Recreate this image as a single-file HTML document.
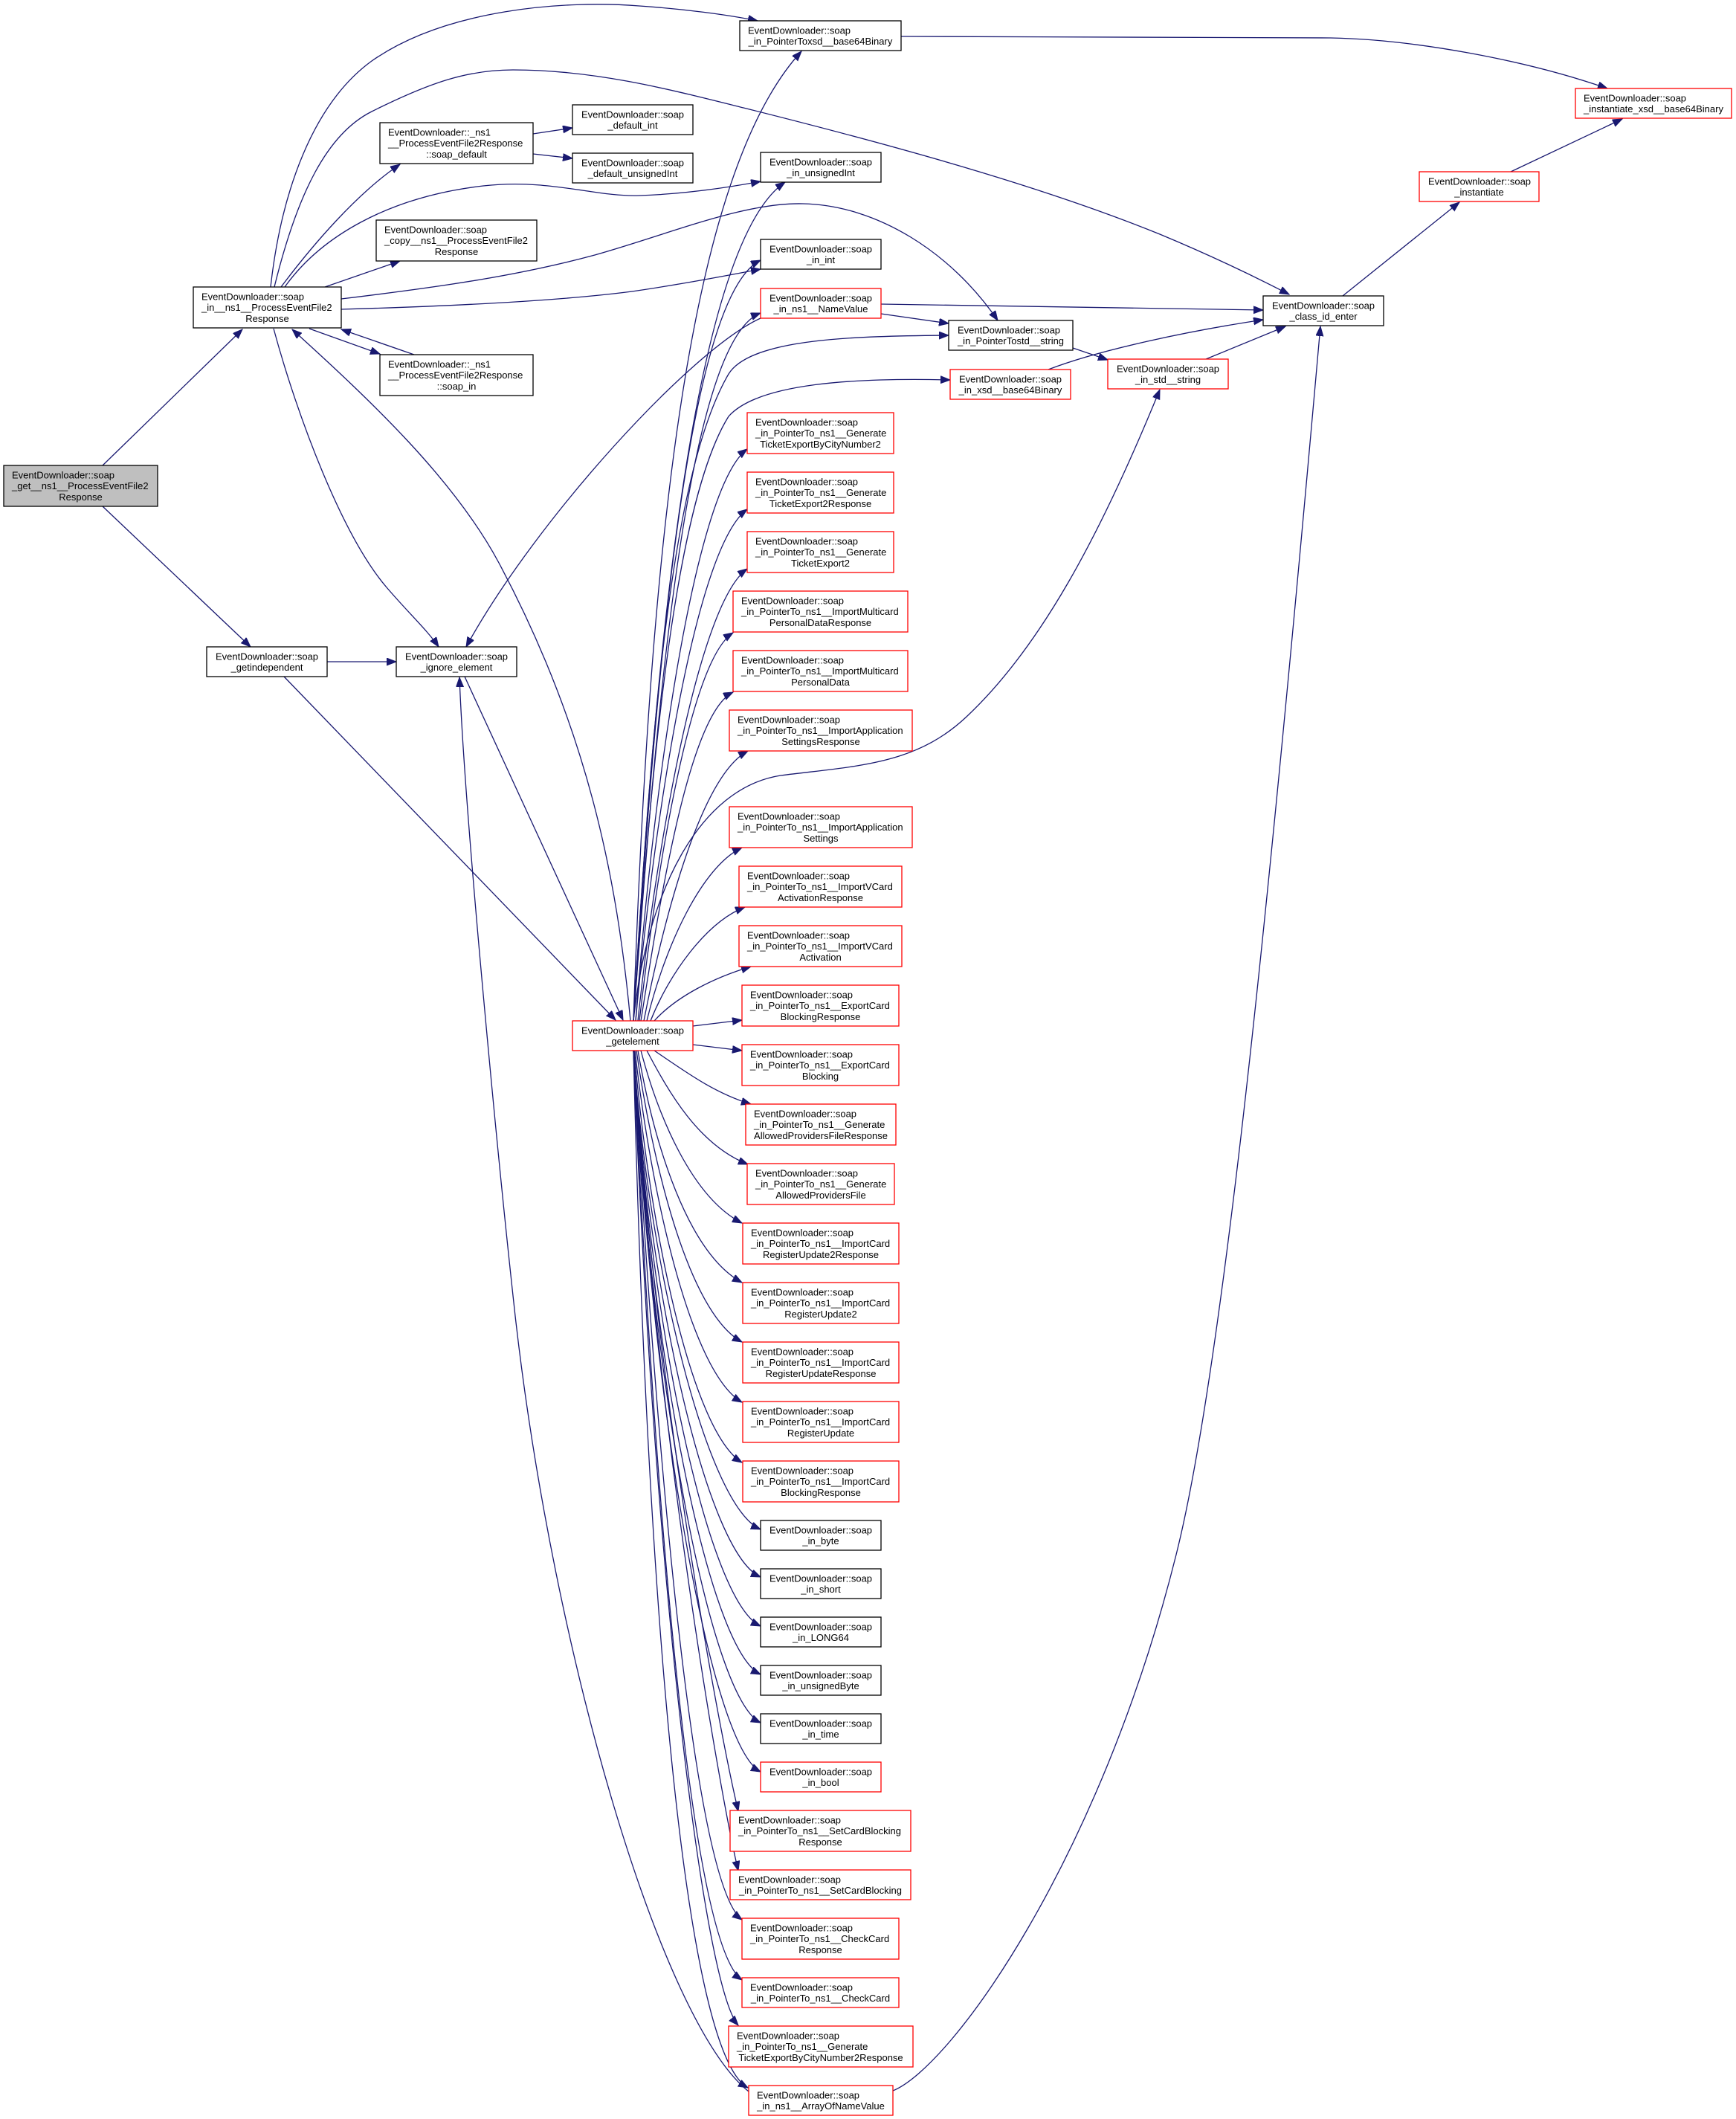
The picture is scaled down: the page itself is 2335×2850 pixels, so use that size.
<!DOCTYPE html>
<html><head><meta charset="utf-8"><style>
html,body{margin:0;padding:0;background:#fff;}
svg{display:block;}
text{font-family:"Liberation Sans",Arial,sans-serif;font-size:13px;fill:#000;}
.m{text-anchor:middle;}
.e{fill:none;stroke:#191970;stroke-width:1.3;marker-end:url(#a);}
.b{fill:#fff;stroke:#000;stroke-width:1.3;}
.r{fill:#fff;stroke:#ff0000;stroke-width:1.3;}
</style></head><body>
<svg width="2335" height="2850" viewBox="0 0 2335 2850" xmlns="http://www.w3.org/2000/svg">
<defs><marker id="a" markerUnits="userSpaceOnUse" markerWidth="14" markerHeight="11" refX="13" refY="5" orient="auto"><path d="M0,0 L13,5 L0,10 Z" fill="#191970" stroke="#191970" stroke-width="1"/></marker></defs>

<!-- edges -->
<path class="e" d="M138,626 L326,443"/>
<path class="e" d="M138,681 L337,870"/>
<path class="e" d="M364,386 C378,260 420,140 500,82 C600,12 760,0 860,8 C920,12 980,20 1019,28"/>
<path class="e" d="M369,386 C400,260 440,180 500,150 C580,110 630,94 690,94 C800,94 900,120 1000,145 C1200,195 1400,250 1560,315 C1620,340 1680,368 1734,396"/>
<path class="e" d="M378,386 C420,330 480,260 538,221"/>
<path class="e" d="M383,386 C430,320 520,265 650,250 C740,240 800,265 860,263 C920,261 980,252 1023,244"/>
<path class="e" d="M437,386 L538,351"/>
<path class="e" d="M459,402 C600,385 700,370 800,343 C900,315 1000,272 1080,274 C1180,276 1280,340 1342,431"/>
<path class="e" d="M459,416 C600,412 750,405 850,392 C920,382 980,370 1023,362"/>
<path class="e" d="M416,442 L511,476"/>
<path class="e" d="M557,477 L459,443"/>
<path class="e" d="M368,442 C400,560 460,720 520,790 C550,825 575,848 590,870"/>
<path class="e" d="M848,1373 C830,1180 790,980 671,757 C611,645 500,540 393,443"/>
<path class="e" d="M440,890 L533,890"/>
<path class="e" d="M382,910 L828,1372"/>
<path class="e" d="M625,910 L838,1372"/>
<path class="e" d="M1023,428 C930,470 720,700 627,870"/>
<path class="e" d="M1007,2813 C890,2720 745,2230 693,1770 C672,1580 625,1100 618,911"/>
<path class="e" d="M717,180 L770,172"/>
<path class="e" d="M717,207 L770,213"/>

<path class="e" d="M1212,49 L1790,51 C1900,53 2050,80 2162,119"/>
<path class="e" d="M1185,409 C1400,412 1600,415 1699,417"/>
<path class="e" d="M1185,422 L1276,435"/>
<path class="e" d="M1443,468 L1490,484"/>
<path class="e" d="M1410,497 C1480,470 1600,445 1699,430"/>
<path class="e" d="M1622,483 L1729,439"/>
<path class="e" d="M1806,398 L1963,272"/>
<path class="e" d="M2032,231 L2182,160"/>
<path class="e" d="M1201,2812 C1280,2780 1480,2500 1582,2091 C1640,1860 1700,1300 1776,439"/>
<path class="e" d="M852,1373 C870,1200 940,1060 1050,1043 C1150,1030 1230,1030 1300,964 C1400,870 1480,720 1560,524"/>

<!-- fan up -->
<path class="e" d="M852,1373 C875,700 930,230 1078,69"/>
<path class="e" d="M852,1373 C880,900 930,330 1056,245"/>
<path class="e" d="M852,1373 C880,950 920,400 1023,350"/>
<path class="e" d="M852,1373 C880,1000 920,460 1023,421"/>
<path class="e" d="M852,1373 C875,1000 900,640 980,503 C1010,455 1150,452 1276,451"/>
<path class="e" d="M852,1373 C875,1050 905,680 980,560 C1020,515 1150,508 1278,511"/>
<path class="e" d="M855,1373 C875,1100 930,660 1005,604"/>
<path class="e" d="M855,1373 C875,1150 930,740 1005,685"/>
<path class="e" d="M858,1373 C878,1180 935,815 1005,765"/>
<path class="e" d="M860,1373 C880,1200 925,890 986,851"/>
<path class="e" d="M862,1373 C885,1230 925,960 986,931"/>
<path class="e" d="M866,1373 C890,1250 940,1045 1006,1010"/>
<path class="e" d="M870,1373 C895,1270 945,1165 998,1140"/>
<path class="e" d="M875,1373 C900,1310 950,1240 1002,1220"/>
<path class="e" d="M880,1373 C910,1340 960,1315 1010,1300"/>
<path class="e" d="M932,1380 L998,1372"/>
<path class="e" d="M932,1405 L998,1413"/>
<!-- fan down -->
<path class="e" d="M880,1413 C920,1440 960,1470 1010,1485"/>
<path class="e" d="M870,1413 C900,1470 940,1540 1006,1566"/>
<path class="e" d="M862,1413 C885,1500 930,1610 998,1645"/>
<path class="e" d="M858,1413 C880,1540 925,1685 998,1725"/>
<path class="e" d="M856,1413 C877,1560 925,1765 998,1805"/>
<path class="e" d="M854,1413 C875,1600 928,1845 998,1886"/>
<path class="e" d="M853,1413 C873,1650 930,1925 998,1967"/>
<path class="e" d="M852,1413 C872,1700 950,2025 1023,2057"/>
<path class="e" d="M852,1413 C874,1750 952,2090 1023,2121"/>
<path class="e" d="M852,1413 C876,1800 954,2155 1023,2187"/>
<path class="e" d="M852,1413 C878,1850 956,2220 1023,2252"/>
<path class="e" d="M852,1413 C880,1900 958,2285 1023,2317"/>
<path class="e" d="M852,1413 C882,1950 960,2350 1023,2383"/>
<path class="e" d="M852,1413 C885,1900 970,2340 993,2436"/>
<path class="e" d="M852,1413 C885,1950 972,2430 993,2516"/>
<path class="e" d="M852,1413 C885,2000 935,2535 998,2582"/>
<path class="e" d="M852,1413 C882,2050 930,2615 998,2663"/>
<path class="e" d="M852,1413 C878,2100 945,2670 993,2724"/>
<path class="e" d="M852,1413 C870,2150 920,2760 1006,2808"/>

<!-- nodes -->
<rect x="5" y="626" width="207" height="55" fill="#bfbfbf" stroke="#000" stroke-width="1.3"/>
<text x="16" y="643.4">EventDownloader::soap</text><text x="16" y="658.1">_get__ns1__ProcessEventFile2</text><text class="m" x="108.5" y="672.8">Response</text>

<rect class="b" x="260" y="386" width="199" height="55"/>
<text x="271" y="403.4">EventDownloader::soap</text><text x="271" y="418.1">_in__ns1__ProcessEventFile2</text><text class="m" x="359.5" y="432.8">Response</text>

<rect class="b" x="511" y="165" width="206" height="55"/>
<text x="522" y="182.4">EventDownloader::_ns1</text><text x="522" y="197.1">__ProcessEventFile2Response</text><text class="m" x="614" y="211.8">::soap_default</text>

<rect class="b" x="506" y="296" width="216" height="55"/>
<text x="517" y="313.4">EventDownloader::soap</text><text x="517" y="328.1">_copy__ns1__ProcessEventFile2</text><text class="m" x="614" y="342.8">Response</text>

<rect class="b" x="511" y="477" width="206" height="55"/>
<text x="522" y="494.4">EventDownloader::_ns1</text><text x="522" y="509.1">__ProcessEventFile2Response</text><text class="m" x="614" y="523.8">::soap_in</text>

<rect class="b" x="278" y="870" width="162" height="40"/>
<text x="290" y="887.25">EventDownloader::soap</text><text class="m" x="359" y="902">_getindependent</text>

<rect class="b" x="533" y="870" width="162" height="40"/>
<text x="545" y="887.25">EventDownloader::soap</text><text class="m" x="614" y="902">_ignore_element</text>

<rect class="b" x="770" y="141" width="162" height="40"/>
<text x="782" y="158.25">EventDownloader::soap</text><text class="m" x="851" y="173">_default_int</text>

<rect class="b" x="770" y="206" width="162" height="40"/>
<text x="782" y="223.25">EventDownloader::soap</text><text class="m" x="851" y="238">_default_unsignedInt</text>

<rect class="r" x="770" y="1373" width="162" height="40"/>
<text x="782" y="1390.25">EventDownloader::soap</text><text class="m" x="851" y="1405">_getelement</text>

<rect class="b" x="995" y="28" width="217" height="40"/>
<text x="1006" y="45.25">EventDownloader::soap</text><text class="m" x="1103.5" y="60">_in_PointerToxsd__base64Binary</text>

<rect class="b" x="1023" y="205" width="162" height="40"/>
<text x="1035" y="222.25">EventDownloader::soap</text><text class="m" x="1104" y="237">_in_unsignedInt</text>

<rect class="b" x="1023" y="322" width="162" height="40"/>
<text x="1035" y="339.25">EventDownloader::soap</text><text class="m" x="1104" y="354">_in_int</text>

<rect class="r" x="1023" y="388" width="162" height="40"/>
<text x="1035" y="405.25">EventDownloader::soap</text><text class="m" x="1104" y="420">_in_ns1__NameValue</text>

<rect class="r" x="1005" y="555" width="197" height="55"/>
<text x="1016" y="572.4">EventDownloader::soap</text><text x="1016" y="587.1">_in_PointerTo_ns1__Generate</text><text class="m" x="1103.5" y="601.8">TicketExportByCityNumber2</text>

<rect class="r" x="1005" y="635" width="197" height="55"/>
<text x="1016" y="652.4">EventDownloader::soap</text><text x="1016" y="667.1">_in_PointerTo_ns1__Generate</text><text class="m" x="1103.5" y="681.8">TicketExport2Response</text>

<rect class="r" x="1005" y="715" width="197" height="55"/>
<text x="1016" y="732.4">EventDownloader::soap</text><text x="1016" y="747.1">_in_PointerTo_ns1__Generate</text><text class="m" x="1103.5" y="761.8">TicketExport2</text>

<rect class="r" x="986" y="795" width="235" height="55"/>
<text x="997" y="812.4">EventDownloader::soap</text><text x="997" y="827.1">_in_PointerTo_ns1__ImportMulticard</text><text class="m" x="1103.5" y="841.8">PersonalDataResponse</text>

<rect class="r" x="986" y="875" width="235" height="55"/>
<text x="997" y="892.4">EventDownloader::soap</text><text x="997" y="907.1">_in_PointerTo_ns1__ImportMulticard</text><text class="m" x="1103.5" y="921.8">PersonalData</text>

<rect class="r" x="981" y="955" width="246" height="55"/>
<text x="992" y="972.4">EventDownloader::soap</text><text x="992" y="987.1">_in_PointerTo_ns1__ImportApplication</text><text class="m" x="1104" y="1001.8">SettingsResponse</text>

<rect class="r" x="981" y="1085" width="246" height="55"/>
<text x="992" y="1102.4">EventDownloader::soap</text><text x="992" y="1117.1">_in_PointerTo_ns1__ImportApplication</text><text class="m" x="1104" y="1131.8">Settings</text>

<rect class="r" x="994" y="1165" width="219" height="55"/>
<text x="1005" y="1182.4">EventDownloader::soap</text><text x="1005" y="1197.1">_in_PointerTo_ns1__ImportVCard</text><text class="m" x="1103.5" y="1211.8">ActivationResponse</text>

<rect class="r" x="994" y="1245" width="219" height="55"/>
<text x="1005" y="1262.4">EventDownloader::soap</text><text x="1005" y="1277.1">_in_PointerTo_ns1__ImportVCard</text><text class="m" x="1103.5" y="1291.8">Activation</text>

<rect class="r" x="998" y="1325" width="211" height="55"/>
<text x="1009" y="1342.4">EventDownloader::soap</text><text x="1009" y="1357.1">_in_PointerTo_ns1__ExportCard</text><text class="m" x="1103.5" y="1371.8">BlockingResponse</text>

<rect class="r" x="998" y="1405" width="211" height="55"/>
<text x="1009" y="1422.4">EventDownloader::soap</text><text x="1009" y="1437.1">_in_PointerTo_ns1__ExportCard</text><text class="m" x="1103.5" y="1451.8">Blocking</text>

<rect class="r" x="1003" y="1485" width="202" height="55"/>
<text x="1014" y="1502.4">EventDownloader::soap</text><text x="1014" y="1517.1">_in_PointerTo_ns1__Generate</text><text class="m" x="1104" y="1531.8">AllowedProvidersFileResponse</text>

<rect class="r" x="1005" y="1565" width="198" height="55"/>
<text x="1016" y="1582.4">EventDownloader::soap</text><text x="1016" y="1597.1">_in_PointerTo_ns1__Generate</text><text class="m" x="1104" y="1611.8">AllowedProvidersFile</text>

<rect class="r" x="999" y="1645" width="210" height="55"/>
<text x="1010" y="1662.4">EventDownloader::soap</text><text x="1010" y="1677.1">_in_PointerTo_ns1__ImportCard</text><text class="m" x="1104" y="1691.8">RegisterUpdate2Response</text>

<rect class="r" x="999" y="1725" width="210" height="55"/>
<text x="1010" y="1742.4">EventDownloader::soap</text><text x="1010" y="1757.1">_in_PointerTo_ns1__ImportCard</text><text class="m" x="1104" y="1771.8">RegisterUpdate2</text>

<rect class="r" x="999" y="1805" width="210" height="55"/>
<text x="1010" y="1822.4">EventDownloader::soap</text><text x="1010" y="1837.1">_in_PointerTo_ns1__ImportCard</text><text class="m" x="1104" y="1851.8">RegisterUpdateResponse</text>

<rect class="r" x="999" y="1885" width="210" height="55"/>
<text x="1010" y="1902.4">EventDownloader::soap</text><text x="1010" y="1917.1">_in_PointerTo_ns1__ImportCard</text><text class="m" x="1104" y="1931.8">RegisterUpdate</text>

<rect class="r" x="999" y="1965" width="210" height="55"/>
<text x="1010" y="1982.4">EventDownloader::soap</text><text x="1010" y="1997.1">_in_PointerTo_ns1__ImportCard</text><text class="m" x="1104" y="2011.8">BlockingResponse</text>

<rect class="b" x="1023" y="2045" width="162" height="40"/>
<text x="1035" y="2062.25">EventDownloader::soap</text><text class="m" x="1104" y="2077">_in_byte</text>

<rect class="b" x="1023" y="2110" width="162" height="40"/>
<text x="1035" y="2127.25">EventDownloader::soap</text><text class="m" x="1104" y="2142">_in_short</text>

<rect class="b" x="1023" y="2175" width="162" height="40"/>
<text x="1035" y="2192.25">EventDownloader::soap</text><text class="m" x="1104" y="2207">_in_LONG64</text>

<rect class="b" x="1023" y="2240" width="162" height="40"/>
<text x="1035" y="2257.25">EventDownloader::soap</text><text class="m" x="1104" y="2272">_in_unsignedByte</text>

<rect class="b" x="1023" y="2305" width="162" height="40"/>
<text x="1035" y="2322.25">EventDownloader::soap</text><text class="m" x="1104" y="2337">_in_time</text>

<rect class="r" x="1023" y="2370" width="162" height="40"/>
<text x="1035" y="2387.25">EventDownloader::soap</text><text class="m" x="1104" y="2402">_in_bool</text>

<rect class="r" x="982" y="2435" width="243" height="55"/>
<text x="993" y="2452.4">EventDownloader::soap</text><text x="993" y="2467.1">_in_PointerTo_ns1__SetCardBlocking</text><text class="m" x="1103.5" y="2481.8">Response</text>

<rect class="r" x="982" y="2515" width="243" height="40"/>
<text x="993" y="2532.25">EventDownloader::soap</text><text class="m" x="1103.5" y="2547">_in_PointerTo_ns1__SetCardBlocking</text>

<rect class="r" x="998" y="2580" width="211" height="55"/>
<text x="1009" y="2597.4">EventDownloader::soap</text><text x="1009" y="2612.1">_in_PointerTo_ns1__CheckCard</text><text class="m" x="1103.5" y="2626.8">Response</text>

<rect class="r" x="998" y="2660" width="211" height="40"/>
<text x="1009" y="2677.25">EventDownloader::soap</text><text class="m" x="1103.5" y="2692">_in_PointerTo_ns1__CheckCard</text>

<rect class="r" x="980" y="2725" width="248" height="55"/>
<text x="991" y="2742.4">EventDownloader::soap</text><text x="991" y="2757.1">_in_PointerTo_ns1__Generate</text><text class="m" x="1104" y="2771.8">TicketExportByCityNumber2Response</text>

<rect class="r" x="1007" y="2805" width="194" height="40"/>
<text x="1018" y="2822.25">EventDownloader::soap</text><text class="m" x="1104" y="2837">_in_ns1__ArrayOfNameValue</text>

<rect class="b" x="1276" y="431" width="167" height="40"/>
<text x="1288" y="448.25">EventDownloader::soap</text><text class="m" x="1359.5" y="463">_in_PointerTostd__string</text>

<rect class="r" x="1278" y="497" width="162" height="40"/>
<text x="1290" y="514.25">EventDownloader::soap</text><text class="m" x="1359" y="529">_in_xsd__base64Binary</text>

<rect class="r" x="1490" y="483" width="162" height="40"/>
<text x="1502" y="500.25">EventDownloader::soap</text><text class="m" x="1571" y="515">_in_std__string</text>

<rect class="b" x="1699" y="398" width="162" height="40"/>
<text x="1711" y="415.25">EventDownloader::soap</text><text class="m" x="1780" y="430">_class_id_enter</text>

<rect class="r" x="1909" y="231" width="161" height="40"/>
<text x="1921" y="248.25">EventDownloader::soap</text><text class="m" x="1989.5" y="263">_instantiate</text>

<rect class="r" x="2119" y="119" width="210" height="40"/>
<text x="2130" y="136.25">EventDownloader::soap</text><text class="m" x="2224" y="151">_instantiate_xsd__base64Binary</text>
</svg>
</body></html>
